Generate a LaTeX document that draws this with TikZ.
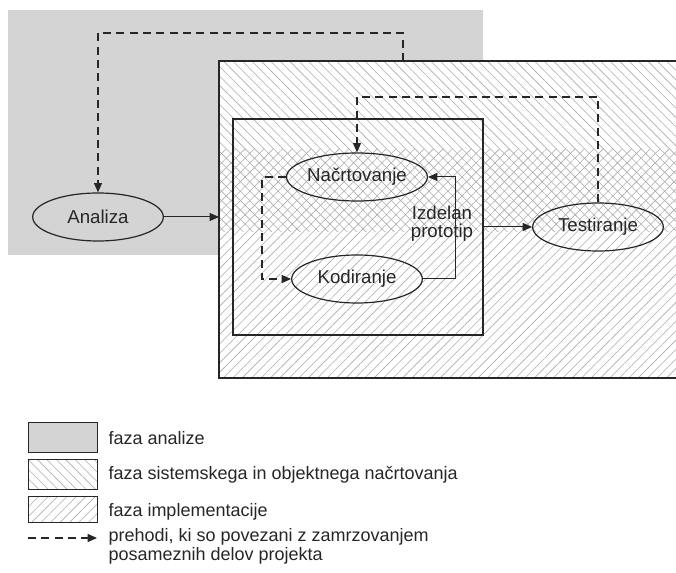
\documentclass[tikz,border=0pt]{standalone}
\usepackage{fontspec}
\setmainfont{Liberation Sans}
\usetikzlibrary{shapes.geometric,patterns.meta,arrows.meta}

\begin{document}
\begin{tikzpicture}[x=0.75pt,y=-0.75pt,>={Triangle[length=7pt,width=6pt]},auto,line width=0.75pt,color=black!85,
    phase node/.style={ellipse,draw,line width=0.9pt,minimum width=98pt,minimum height=36pt,inner sep=0pt,font=\fontsize{14}{16}\selectfont},
    legend text/.style={anchor=west,align=left,inner sep=0pt,font=\fontsize{13.5}{14.25}\selectfont},
    legend box/.style={draw,line width=0.6pt,minimum width=51.75pt,inner sep=0pt},
    freeze/.style={->,dash pattern=on 6pt off 4pt,line width=0.9pt},
    flow/.style={->,line width=0.75pt},
    design hatch/.style={pattern={Lines[angle=-45,distance=5pt,line width=0.45pt]},pattern color=black!32},
    impl hatch/.style={pattern={Lines[angle=45,distance=5pt,line width=0.45pt]},pattern color=black!32}]

                \useasboundingbox (0,0) rectangle (676,573);

                \fill[black!17] (8,10) rectangle (483,255);
                \fill[white] (219,61) rectangle (676,378);
                \fill[design hatch] (219,61) rectangle (676,232);
                \fill[impl hatch] (219,150) rectangle (676,378);
                \draw[line width=0.9pt] (676,61) -- (219,61) -- (219,378) -- (676,378);

                \node[draw,line width=1.5pt,minimum width=187.5pt,minimum height=162pt,inner sep=0pt] (impl) at (358,227) {};
                \coordinate (design) at (219,217);
                \coordinate (top) at (403,61);

                \node[phase node] (analiza) at (98,217) {Analiza};
                \node[phase node] (nacrt) at (357,177) {Načrtovanje};
                \node[phase node] (kodir) at (357,279) {Kodiranje};
                \node[phase node] (test) at (598,227) {Testiranje};
                \node[align=center,inner sep=0pt,font=\fontsize{14}{13.5}\selectfont] (proto) at (442,224) {Izdelan\\prototip};

                \draw[flow] (analiza) to (design);
                \draw[flow] (impl.east) to (test);
                \draw[flow] (kodir.east) -- (455,279) |- (nacrt.east);
                \draw[freeze] (nacrt.west) -- (262,177) |- (kodir.west);
                \draw[freeze] (test.north) -- (598,97) -| (nacrt.north);
                \draw[freeze] (top) -- (403,33) -| (analiza.north);

                \node[legend box,fill=black!17,minimum height=22.5pt] (box1) at (62.5,437) {};
                \node[legend box,design hatch,minimum height=23pt] (box2) at (62.5,474.5) {};
                \node[legend box,impl hatch,minimum height=20pt] (box3) at (62.5,509.5) {};
                \coordinate (arr1) at (28,538);
                \coordinate (arr2) at (97,538);
                \draw[freeze] (arr1) to (arr2);

                \node[legend text] (leg1) at (108,438) {faza analize};
                \node[legend text] (leg2) at (108,475) {faza sistemskega in objektnega načrtovanja};
                \node[legend text] (leg3) at (108,512) {faza implementacije};
                \node[legend text] (leg4) at (108,546) {prehodi, ki so povezani z zamrzovanjem\\posameznih delov projekta};

                ;
            \end{tikzpicture}
\end{document}
